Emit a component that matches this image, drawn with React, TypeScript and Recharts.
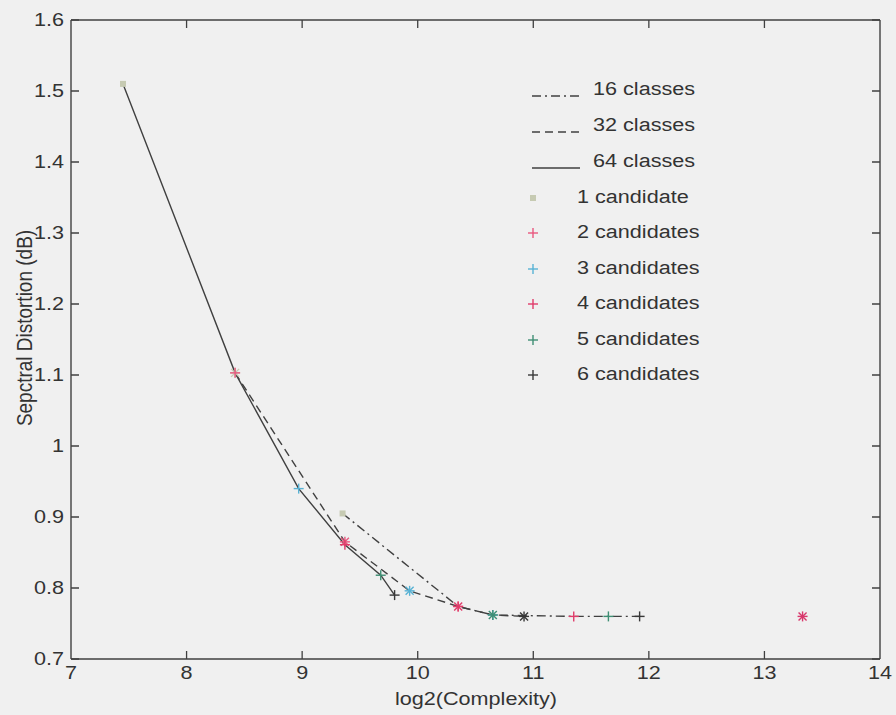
import React from 'react'
import { ComposedChart, Line, Scatter, XAxis, YAxis, ReferenceLine } from 'recharts'

// axis ticks
const xTicks = [7, 8, 9, 10, 11, 12, 13, 14]
const yTicks = [0.7, 0.8, 0.9, 1, 1.1, 1.2, 1.3, 1.4, 1.5, 1.6]

// log2(complexity) / distortion for 1..6 candidates, per codebook size
const x64 = [7.45, 8.42, 8.97, 9.37, 9.68, 9.8]
const y64 = [1.51, 1.103, 0.94, 0.861, 0.818, 0.79]
const x32 = [8.42, 9.37, 9.93, 10.35, 10.65, 10.92]
const y32 = [1.103, 0.865, 0.796, 0.774, 0.762, 0.76]
const x16 = [9.35, 10.35, 10.65, 11.35, 11.65, 11.92]
const y16 = [0.905, 0.774, 0.762, 0.76, 0.76, 0.76]
// full search
const fullX = [13.33]
const fullY = [0.76]

const classLabels = ['16 classes', '32 classes', '64 classes']
const candidateLabels = ['1 candidate', '2 candidates', '3 candidates', '4 candidates', '5 candidates', '6 candidates']

const FONT = '"Liberation Sans", Arial, sans-serif'
const INK = '#404040'
const TEXT = '#333'
const STRETCH = 1.2
const DASHES = ['9 4 2 4', '8 5', '']
const MARK_COLORS = ['#c6cab2', '#e8587f', '#58b2d4', '#e03c6a', '#3f8f74', '#383838']

const W = 896
const H = 715
const MARGIN = { top: 20, right: 16, bottom: 0, left: 0 }
const PLOT_RIGHT = W - MARGIN.right
const TICK = 8
const Y_MIN = 0.7
const Y_MAX = 1.6
// inward tick expressed in y units (plot is 639px tall)
const TICK_DY = (TICK / 639) * (Y_MAX - Y_MIN)

const toPoints = (xs: number[], ys: number[], cls: number) => xs.map((x, i) => ({ x, y: ys[i], cls }))

const curves = [toPoints(x16, y16, 16), toPoints(x32, y32, 32), toPoints(x64, y64, 64)]
const byCandidate = candidateLabels.map((_, k) => [
  { x: x64[k], y: y64[k], cls: 64 },
  { x: x32[k], y: y32[k], cls: 32 },
  { x: x16[k], y: y16[k], cls: 16 },
])
const fullSearch = toPoints(fullX, fullY, 0)

const Plus = ({ cx, cy, color, star }: { cx: number; cy: number; color: string; star?: boolean }) => (
  <g stroke={color} strokeWidth={1.4}>
    <line x1={cx - 5} x2={cx + 5} y1={cy} y2={cy} />
    <line x1={cx} x2={cx} y1={cy - 5} y2={cy + 5} />
    {star && <line x1={cx - 4} x2={cx + 4} y1={cy - 4} y2={cy + 4} />}
    {star && <line x1={cx - 4} x2={cx + 4} y1={cy + 4} y2={cy - 4} />}
  </g>
)

const Label = ({ x, y, value, anchor }: { x: number; y: number; value: string; anchor: 'start' | 'middle' | 'end' }) => (
  <g transform={`translate(${x},${y}) scale(${STRETCH},1)`}>
    <text x={0} y={0} textAnchor={anchor} fontSize={18} fontFamily={FONT} fill={TEXT}>
      {value}
    </text>
  </g>
)

const BottomTick = (p: any) => <Label x={p.x} y={p.y + 20} value={String(p.payload.value)} anchor="middle" />

// MATLAB style: tick marks point into the box
const LeftTick = (p: any) => (
  <g>
    <path d={`M${p.x},${p.y}h${TICK}M${PLOT_RIGHT},${p.y}h${-TICK}`} stroke={INK} strokeWidth={1.3} fill="none" />
    <Label x={p.x - 7} y={p.y + 6} value={String(p.payload.value)} anchor="end" />
  </g>
)

const legendText: React.CSSProperties = {
  position: 'absolute',
  fontFamily: FONT,
  fontSize: 18,
  color: TEXT,
  transform: `scaleX(${STRETCH})`,
  transformOrigin: 'left center',
  whiteSpace: 'nowrap',
  lineHeight: '20px',
}

const ChartLegend = () => (
  <div style={{ position: 'absolute', left: 0, top: 0, pointerEvents: 'none' }}>
    {classLabels.map((name, i) => {
      const cy = 90 + i * 36
      return (
        <React.Fragment key={name}>
          <svg style={{ position: 'absolute', left: 530, top: cy - 2 }} width={52} height={12}>
            <line x1={2} x2={50} y1={8} y2={8} stroke={INK} strokeWidth={1.4} strokeDasharray={DASHES[i] || undefined} />
          </svg>
          <span style={{ ...legendText, left: 593, top: cy - 11 }}>{name}</span>
        </React.Fragment>
      )
    })}
    {candidateLabels.map((name, i) => {
      const cy = 197.5 + i * 35.5
      return (
        <React.Fragment key={name}>
          <svg style={{ position: 'absolute', left: 524, top: cy - 9 }} width={18} height={18}>
            {i === 0 ? (
              <rect x={6} y={6} width={6} height={6} fill={MARK_COLORS[0]} />
            ) : (
              <Plus cx={9} cy={9} color={MARK_COLORS[i]} />
            )}
          </svg>
          <span style={{ ...legendText, left: 577, top: cy - 11 }}>{name}</span>
        </React.Fragment>
      )
    })}
  </div>
)

export default function App() {
  return (
    <div style={{ position: 'absolute', left: 0, top: 0, width: W, height: H, background: '#f0f0f0' }}>
      <ComposedChart width={W} height={H} margin={MARGIN}>
        <XAxis
          type="number"
          dataKey="x"
          domain={[7, 14]}
          ticks={xTicks}
          allowDataOverflow
          height={56}
          tickSize={0}
          tickMargin={0}
          tickLine={false}
          axisLine={{ stroke: INK, strokeWidth: 1.4 }}
          tick={BottomTick}
          label={{
            content: () => <Label x={476} y={705} value="log2(Complexity)" anchor="middle" />,
          }}
        />
        <YAxis
          type="number"
          domain={[Y_MIN, Y_MAX]}
          ticks={yTicks}
          allowDataOverflow
          width={71}
          tickSize={0}
          tickMargin={0}
          tickLine={false}
          axisLine={{ stroke: INK, strokeWidth: 1.4 }}
          tick={LeftTick}
          label={{
            content: () => (
              <g transform={`translate(25,328) rotate(-90) scale(1,${STRETCH})`}>
                <text x={0} y={6} textAnchor="middle" fontSize={19} fontFamily={FONT} fill={TEXT}>
                  Sepctral Distortion (dB)
                </text>
              </g>
            ),
          }}
        />
        <ReferenceLine y={Y_MAX} stroke={INK} strokeWidth={1.4} />
        <ReferenceLine x={14} stroke={INK} strokeWidth={1.4} />
        {xTicks.slice(1, -1).map((t) => (
          <ReferenceLine
            key={`b${t}`}
            segment={[{ x: t, y: Y_MIN }, { x: t, y: Y_MIN + TICK_DY }]}
            stroke={INK}
            strokeWidth={1.3}
          />
        ))}
        {xTicks.slice(1, -1).map((t) => (
          <ReferenceLine
            key={`t${t}`}
            segment={[{ x: t, y: Y_MAX }, { x: t, y: Y_MAX - TICK_DY }]}
            stroke={INK}
            strokeWidth={1.3}
          />
        ))}
        {curves.map((pts, i) => (
          <Line
            key={classLabels[i]}
            data={pts}
            dataKey="y"
            type="linear"
            stroke={INK}
            strokeWidth={1.4}
            strokeDasharray={DASHES[i] || undefined}
            dot={false}
            activeDot={false}
            isAnimationActive={false}
          />
        ))}
        {byCandidate.map((pts, k) => (
          <Scatter
            key={candidateLabels[k]}
            data={pts}
            dataKey="y"
            isAnimationActive={false}
            shape={(p: any) =>
              k === 0 && p.payload.cls !== 32 ? (
                <rect x={p.cx - 3} y={p.cy - 3} width={6} height={6} fill={MARK_COLORS[0]} />
              ) : (
                <Plus cx={p.cx} cy={p.cy} color={MARK_COLORS[k]} star={p.payload.cls === 32} />
              )
            }
          />
        ))}
        <Scatter
          data={fullSearch}
          dataKey="y"
          isAnimationActive={false}
          shape={(p: any) => <Plus cx={p.cx} cy={p.cy} color="#d8386c" star />}
        />
      </ComposedChart>
      <ChartLegend />
    </div>
  )
}
